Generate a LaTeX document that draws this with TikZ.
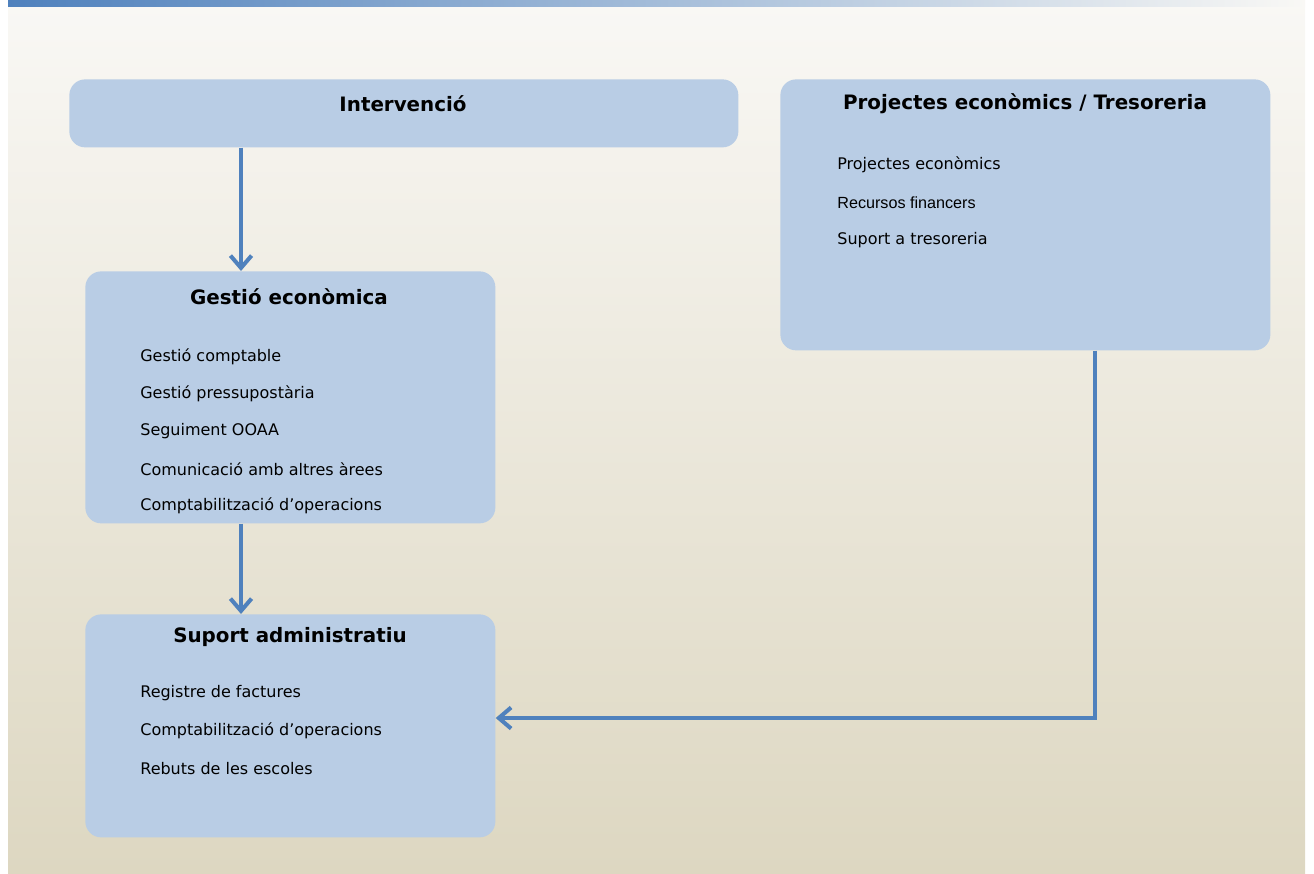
\documentclass[tikz,border=0pt]{standalone}
\usepackage{fontspec}
\setmainfont{DejaVu Sans}
\newfontfamily\tahfont{Liberation Sans}
\usetikzlibrary{arrows.meta,positioning}
\definecolor{boxblue}{HTML}{B9CDE5}
\definecolor{linkblue}{HTML}{4F81BD}
\definecolor{bgtop}{HTML}{F9F8F5}
\definecolor{bgbottom}{HTML}{DDD7C1}
\tikzset{
  unitbox/.style={fill=boxblue, draw=none, rounded corners=9pt, anchor=north west, inner sep=0pt},
  unittitle/.style={font=\fontsize{11.3}{13}\selectfont\bfseries, inner sep=0pt},
  unititem/.style={font=\fontsize{9.1}{11}\selectfont, anchor=west, inner sep=0pt},
  link/.style={draw=linkblue, line width=2.3pt, -{Straight Barb[length=7pt,width=12pt,line width=2.3pt]}}
}
\begin{document}
\begin{tikzpicture}[x=0.02cm,y=-0.02cm]
      \useasboundingbox (0,0) rectangle (1314,873);
      % background
      \shade[top color=bgtop, bottom color=bgbottom] (8,0) rectangle (1305,873);
      \shade[left color=linkblue, right color=bgtop] (8,0) rectangle (1305,6);

      % boxes
      \node[unitbox, minimum width=669*0.02cm, minimum height=68*0.02cm] (interv) at (69,79) {};
        \node[unittitle] (intervt) at (403,104) {Intervenció};
      \node[unitbox, minimum width=490*0.02cm, minimum height=271*0.02cm] (proj) at (780,79) {};
        \node[unittitle] (projt) at (1025,104) {Projectes econòmics / Tresoreria};
        \node[unititem] (proj1) at (837,165) {Projectes econòmics};
        \node[unititem, font=\tahfont\fontsize{9.2}{11}\selectfont] (proj2) at (837,203) {Recursos financers};
        \node[unititem] (proj3) at (837,240) {Suport a tresoreria};
      \node[unitbox, minimum width=410*0.02cm, minimum height=252*0.02cm] (gestio) at (85,271) {};
        \node[unittitle] (gestiot) at (289,297) {Gestió econòmica};
        \node[unititem] (gestio1) at (140,357) {Gestió comptable};
        \node[unititem] (gestio2) at (140,394) {Gestió pressupostària};
        \node[unititem] (gestio3) at (140,431) {Seguiment OOAA};
        \node[unititem] (gestio4) at (140,469) {Comunicació amb altres àrees};
        \node[unititem] (gestio5) at (140,506) {Comptabilització d’operacions};
      \node[unitbox, minimum width=410*0.02cm, minimum height=223*0.02cm] (suport) at (85,614) {};
        \node[unittitle] (suportt) at (290,637) {Suport administratiu};
        \node[unititem] (suport1) at (140,693) {Registre de factures};
        \node[unititem] (suport2) at (140,731) {Comptabilització d’operacions};
        \node[unititem] (suport3) at (140,769) {Rebuts de les escoles};

      % links
      \coordinate (l1) at (241,0);
      \coordinate (l3) at (1095,718);
      \draw[link] (interv.south -| l1) -- (gestio.north -| l1);
      \draw[link] (gestio.south -| l1) -- (suport.north -| l1);
      \draw[link] (proj.south -| l3) -- (l3) -- (suport.east |- l3);
    \end{tikzpicture}
\end{document}
